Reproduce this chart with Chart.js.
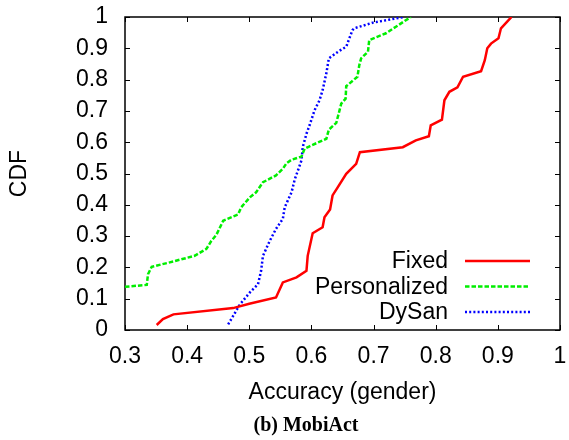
<!DOCTYPE html>
<html>
<head>
<meta charset="utf-8">
<script src="https://cdn.jsdelivr.net/npm/chart.js@4.4.1/dist/chart.umd.min.js"></script>
<style>
  html, body { margin: 0; padding: 0; background: #fff; }
</style>
</head>
<body>
<canvas id="cdfChart" width="569" height="440"></canvas>
<script>
// series (accuracy, cumulative fraction)
const seriesNames = ["Fixed", "Personalized", "DySan"];

const fixedAcc = [0.351, 0.361, 0.378, 0.474, 0.500, 0.543, 0.554, 0.576, 0.592, 0.594, 0.602, 0.618, 0.621, 0.630, 0.634, 0.642, 0.656, 0.672, 0.678, 0.747, 0.768, 0.789, 0.792, 0.810, 0.814, 0.822, 0.835, 0.844, 0.873, 0.879, 0.883, 0.889, 0.901, 0.905, 0.915, 0.922];
const fixedCdf = [0.016, 0.035, 0.050, 0.070, 0.084, 0.104, 0.152, 0.168, 0.189, 0.237, 0.309, 0.328, 0.360, 0.385, 0.430, 0.455, 0.499, 0.531, 0.568, 0.584, 0.606, 0.619, 0.654, 0.672, 0.734, 0.761, 0.775, 0.809, 0.827, 0.862, 0.900, 0.915, 0.932, 0.964, 0.985, 1.000];

const persAcc = [0.300, 0.335, 0.337, 0.343, 0.372, 0.412, 0.431, 0.439, 0.447, 0.458, 0.482, 0.487, 0.501, 0.511, 0.522, 0.543, 0.554, 0.560, 0.568, 0.584, 0.589, 0.597, 0.624, 0.628, 0.640, 0.648, 0.655, 0.656, 0.674, 0.677, 0.680, 0.691, 0.693, 0.720, 0.736, 0.760];
const persCdf = [0.138, 0.144, 0.178, 0.202, 0.216, 0.237, 0.259, 0.285, 0.304, 0.349, 0.369, 0.392, 0.424, 0.440, 0.472, 0.494, 0.515, 0.533, 0.544, 0.554, 0.579, 0.587, 0.611, 0.640, 0.662, 0.723, 0.739, 0.779, 0.809, 0.846, 0.868, 0.889, 0.926, 0.948, 0.969, 1.000];

const dysanAcc = [0.466, 0.485, 0.501, 0.514, 0.519, 0.522, 0.533, 0.543, 0.554, 0.557, 0.568, 0.573, 0.584, 0.586, 0.592, 0.597, 0.605, 0.613, 0.618, 0.624, 0.628, 0.645, 0.656, 0.666, 0.669, 0.699, 0.749];
const dysanCdf = [0.018, 0.082, 0.120, 0.146, 0.189, 0.237, 0.285, 0.323, 0.355, 0.392, 0.440, 0.480, 0.542, 0.584, 0.627, 0.654, 0.702, 0.734, 0.766, 0.820, 0.868, 0.892, 0.905, 0.958, 0.964, 0.982, 1.000];

const xTicks = [0.3, 0.4, 0.5, 0.6, 0.7, 0.8, 0.9, 1];
const xTickLabels = ["0.3", "0.4", "0.5", "0.6", "0.7", "0.8", "0.9", "1"];
const yTicks = [0, 0.1, 0.2, 0.3, 0.4, 0.5, 0.6, 0.7, 0.8, 0.9, 1];
const yTickLabels = ["0", "0.1", "0.2", "0.3", "0.4", "0.5", "0.6", "0.7", "0.8", "0.9", "1"];

const xTitle = "Accuracy (gender)";
const yTitle = "CDF";
const captionText = "(b) MobiAct";

const sansFont = "'Liberation Sans', Arial, sans-serif";

function toPoints(xs, ys) {
  return xs.map((x, i) => ({ x: x, y: ys[i] }));
}

// gnuplot style box with inward ticks on all four sides
const frame = {
  id: "frame",
  beforeDatasetsDraw(chart) {
    const { ctx, chartArea: a, scales } = chart;
    ctx.save();
    ctx.strokeStyle = "#000";
    ctx.lineWidth = 1;
    ctx.beginPath();
    xTicks.forEach(v => {
      const px = Math.round(scales.x.getPixelForValue(v)) + 0.5;
      ctx.moveTo(px, a.bottom); ctx.lineTo(px, a.bottom - 5);
      ctx.moveTo(px, a.top); ctx.lineTo(px, a.top + 5);
    });
    yTicks.forEach(v => {
      const py = Math.round(scales.y.getPixelForValue(v)) + 0.5;
      ctx.moveTo(a.left, py); ctx.lineTo(a.left + 5, py);
      ctx.moveTo(a.right, py); ctx.lineTo(a.right - 5, py);
    });
    ctx.stroke();
    ctx.lineWidth = 1.5;
    ctx.strokeRect(a.left, a.top, a.right - a.left, a.bottom - a.top);
    ctx.restore();
  }
};

// legend inside the plot: right aligned text, line sample to the right
const keyBox = {
  id: "keyBox",
  afterDatasetsDraw(chart) {
    const ctx = chart.ctx;
    ctx.save();
    ctx.font = "23px " + sansFont;
    ctx.textAlign = "right";
    ctx.textBaseline = "middle";
    chart.data.datasets.forEach((ds, i) => {
      const y = 261 + i * 25.5;
      ctx.fillStyle = "#000";
      ctx.fillText(ds.label, 448, y + 1);
      ctx.strokeStyle = ds.borderColor;
      ctx.lineWidth = ds.borderWidth;
      ctx.setLineDash(ds.borderDash || []);
      ctx.beginPath();
      ctx.moveTo(465, y);
      ctx.lineTo(530, y);
      ctx.stroke();
    });
    ctx.restore();
  }
};

const caption = {
  id: "caption",
  afterDraw(chart) {
    const ctx = chart.ctx;
    ctx.save();
    ctx.font = "bold 20px 'Liberation Serif', 'Times New Roman', serif";
    ctx.fillStyle = "#000";
    ctx.textAlign = "center";
    ctx.textBaseline = "middle";
    ctx.fillText(captionText, 306, 426);
    ctx.restore();
  }
};

// drop the label-overflow padding so the plot box sits where the layout puts it
function noOverflow(s) {
  s.paddingLeft = 0; s.paddingRight = 0; s.paddingTop = 0; s.paddingBottom = 0;
}

new Chart(document.getElementById("cdfChart"), {
  type: "line",
  data: {
    datasets: [{
      label: seriesNames[0],
      data: toPoints(fixedAcc, fixedCdf),
      borderColor: "#ff0000",
      borderWidth: 2.5
    }, {
      label: seriesNames[1],
      data: toPoints(persAcc, persCdf),
      borderColor: "#00ee00",
      borderWidth: 2.5,
      borderDash: [4.5, 2]
    }, {
      label: seriesNames[2],
      data: toPoints(dysanAcc, dysanCdf),
      borderColor: "#0000ff",
      borderWidth: 2.5,
      borderDash: [2, 2.2]
    }]
  },
  options: {
    responsive: false,
    animation: false,
    layout: { padding: { top: 17, right: 9, left: 0, bottom: 0 } },
    elements: { point: { radius: 0 }, line: { tension: 0, fill: false } },
    plugins: { legend: { display: false }, tooltip: { enabled: false } },
    scales: {
      x: {
        type: "linear",
        min: 0.3,
        max: 1,
        grid: { display: false, drawTicks: false },
        border: { display: false },
        afterBuildTicks: s => { s.ticks = xTicks.map(v => ({ value: v })); },
        afterFit: s => { s.height = 110; noOverflow(s); },
        ticks: {
          autoSkip: false,
          maxRotation: 0,
          padding: 13,
          color: "#000",
          font: { family: sansFont, size: 23 },
          callback: (v, i) => xTickLabels[i]
        },
        title: {
          display: true,
          text: xTitle,
          color: "#000",
          font: { family: sansFont, size: 23 },
          padding: { top: 0, bottom: 34 }
        }
      },
      y: {
        type: "linear",
        min: 0,
        max: 1,
        grid: { display: false, drawTicks: false },
        border: { display: false },
        afterBuildTicks: s => { s.ticks = yTicks.map(v => ({ value: v })); },
        afterFit: s => { s.width = 125; noOverflow(s); },
        ticks: {
          autoSkip: false,
          padding: 17,
          color: "#000",
          font: { family: sansFont, size: 23 },
          callback: (v, i) => yTickLabels[i]
        },
        title: {
          display: true,
          text: yTitle,
          color: "#000",
          font: { family: sansFont, size: 23 },
          padding: { top: 6, bottom: 0 }
        }
      }
    }
  },
  plugins: [frame, keyBox, caption]
});
</script>
</body>
</html>
